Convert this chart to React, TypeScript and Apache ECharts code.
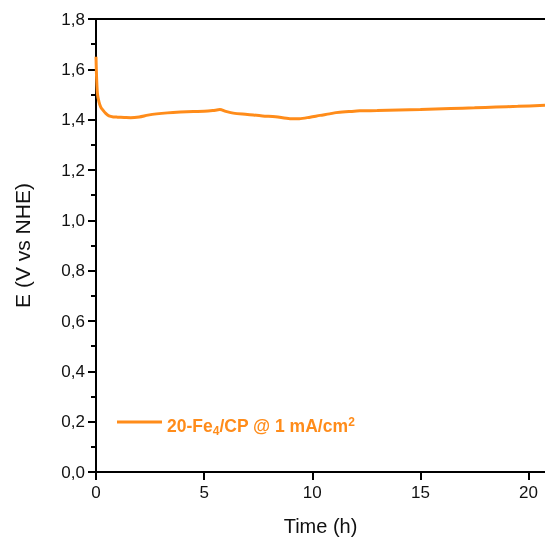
import React, { useEffect, useRef } from "react";
import * as echarts from "echarts";

const timeH = [0, 0.03, 0.07, 0.14, 0.22, 0.32, 0.45, 0.6, 0.8, 1.0, 1.3, 1.6, 2.0, 2.4, 2.8, 3.3, 3.9, 4.5, 5.0, 5.4, 5.73, 6.0, 6.35, 7.0, 7.7, 8.3, 8.97, 9.4, 9.9, 10.36, 10.8, 11.1, 11.7, 12.2, 13, 14, 15, 16.4, 17.5, 18.5, 19.5, 20.76];
const potential = [1.65, 1.56, 1.5, 1.47, 1.45, 1.438, 1.425, 1.415, 1.411, 1.41, 1.409, 1.408, 1.411, 1.418, 1.423, 1.427, 1.43, 1.432, 1.433, 1.436, 1.44, 1.433, 1.426, 1.421, 1.415, 1.412, 1.404, 1.404, 1.41, 1.417, 1.423, 1.428, 1.432, 1.435, 1.436, 1.438, 1.44, 1.444, 1.447, 1.45, 1.453, 1.457];
const xTicks = [0, 5, 10, 15, 20];
const seriesName = "20-Fe4/CP @ 1 mA/cm2";

const FONT = "'Liberation Sans', Arial, sans-serif";
const ORANGE = "#FF8C1A";

export default function App() {
  const ref = useRef<HTMLDivElement>(null);
  useEffect(() => {
    if (!ref.current) return;
    const chart = echarts.init(ref.current, undefined, { renderer: "svg" });
    const data = timeH.map((t, i) => [t, potential[i]]);
    chart.setOption({
      animation: false,
      textStyle: { fontFamily: FONT },
      grid: { left: 96, top: 19, right: 0, bottom: 72 },
      legend: {
        data: [{ name: seriesName, icon: "rect" }],
        left: 117,
        top: 415,
        padding: 0,
        itemWidth: 45,
        itemHeight: 3,
        itemGap: 0,
        formatter: () => "{a|20-Fe}{sub|4}{a|/CP @ 1 mA/cm}{sup|2}",
        textStyle: {
          color: ORANGE,
          fontFamily: FONT,
          padding: [8, 0, 0, 0],
          rich: {
            a: { fontSize: 17.5, fontWeight: "bold", color: ORANGE, fontFamily: FONT, lineHeight: 24, verticalAlign: "middle" },
            sub: { fontSize: 12, fontWeight: "bold", color: ORANGE, fontFamily: FONT, padding: [10, 0, 0, 0], lineHeight: 24, verticalAlign: "middle" },
            sup: { fontSize: 12, fontWeight: "bold", color: ORANGE, fontFamily: FONT, padding: [0, 0, 9, 0], lineHeight: 24, verticalAlign: "middle" },
          },
        },
      },
      xAxis: [
        {
          type: "value",
          min: 0,
          max: 20.76,
          interval: 5,
          name: "Time (h)",
          nameLocation: "middle",
          nameGap: 44,
          nameTextStyle: { fontSize: 20, color: "#111", fontFamily: FONT },
          axisLine: { show: true, onZero: false, lineStyle: { color: "#000", width: 2 } },
          axisTick: { show: true, inside: false, length: 8, customValues: xTicks, lineStyle: { color: "#000", width: 2 } },
          axisLabel: {
            fontSize: 17,
            color: "#111",
            margin: 12,
            fontFamily: FONT,
            customValues: xTicks,
            formatter: (v: number) => String(Math.round(v)),
          },
          splitLine: { show: false },
        },
        {
          type: "value",
          position: "top",
          min: 0,
          max: 20.76,
          axisLine: { show: true, onZero: false, lineStyle: { color: "#000", width: 2 } },
          axisTick: { show: false },
          axisLabel: { show: false },
          splitLine: { show: false },
        },
      ],
      yAxis: {
        type: "value",
        min: 0,
        max: 1.8,
        interval: 0.2,
        name: "E (V vs NHE)",
        nameLocation: "middle",
        nameGap: 63,
        nameTextStyle: { fontSize: 21, color: "#111", fontFamily: FONT },
        axisLine: { show: true, onZero: false, lineStyle: { color: "#000", width: 2 } },
        axisTick: { show: true, inside: false, length: 8, lineStyle: { color: "#000", width: 2 } },
        minorTick: { show: true, splitNumber: 2, length: 5, lineStyle: { color: "#000", width: 2 } },
        axisLabel: {
          fontSize: 17,
          color: "#111",
          margin: 11,
          fontFamily: FONT,
          formatter: (v: number) => v.toFixed(1).replace(".", ","),
        },
        splitLine: { show: false },
      },
      series: [
        {
          name: seriesName,
          type: "line",
          data,
          xAxisIndex: 0,
          symbol: "none",
          smooth: 0.3,
          lineStyle: { color: ORANGE, width: 3 },
          itemStyle: { color: ORANGE },
        },
      ],
    });
    return () => chart.dispose();
  }, []);
  return <div ref={ref} style={{ position: "fixed", left: 0, top: 0, width: 545, height: 544 }} />;
}
